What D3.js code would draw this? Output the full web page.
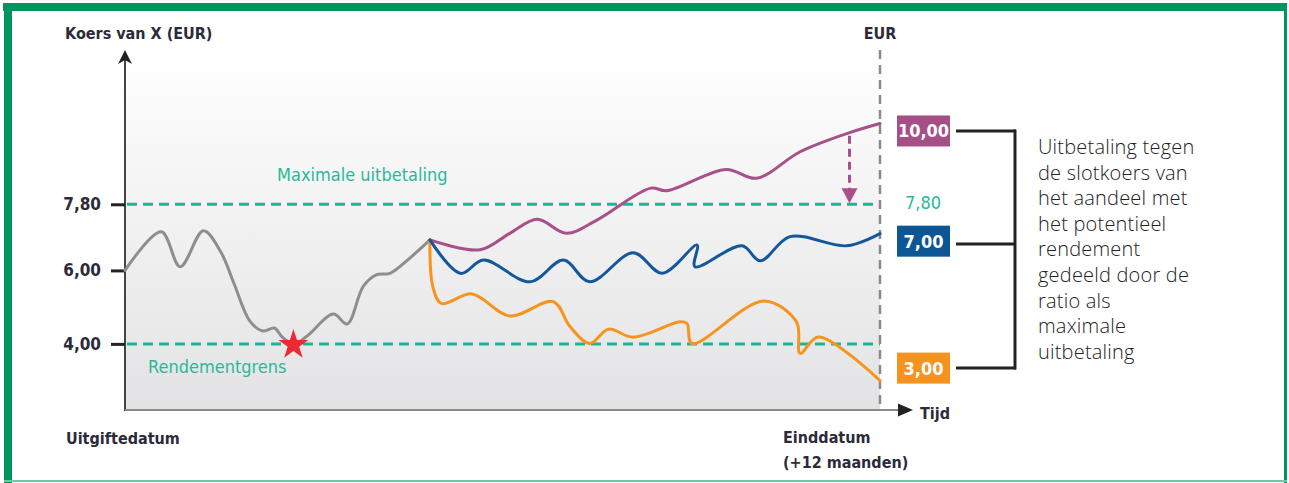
<!DOCTYPE html>
<html>
<head>
<meta charset="utf-8">
<script src="https://cdn.jsdelivr.net/npm/d3@7"></script>
<style>
body { margin: 0; background: #fff; }
svg { display: block; }
</style>
</head>
<body>
<script>
// waarden (x in weken, y in EUR)
var grayWeeks = [0, 2.5, 3.8, 5.4, 6.6, 7.5, 8.6, 9.5, 10.3, 10.8, 11.6, 12.5, 14.35, 15.3, 16.4, 17.3, 18.25, 19.6, 21];
var grayValues = [6.0, 7.05, 6.1, 7.08, 6.5, 5.65, 4.62, 4.35, 4.43, 4.2, 4.0, 4.2, 4.81, 4.54, 5.56, 5.88, 5.92, 6.33, 6.83];

var purpleWeeks = [21, 24.45, 26.5, 28.4, 30.4, 32.5, 36.2, 37.3, 41.4, 43.5, 46.5, 49.9, 52];
var purpleValues = [6.83, 6.56, 7.01, 7.39, 7.01, 7.37, 8.24, 8.17, 8.75, 8.51, 9.23, 9.75, 10.0];

var blueWeeks = [21, 23.1, 24.7, 27.9, 30.2, 32.0, 35.0, 37.0, 39.4, 39.25, 42.5, 43.75, 45.8, 49.7, 52];
var blueValues = [6.83, 5.92, 6.28, 5.69, 6.28, 5.69, 6.48, 5.92, 6.69, 6.10, 6.67, 6.26, 6.92, 6.67, 7.0];

var orangeWeeks = [21, 21.2, 21.8, 23.9, 26.5, 29.5, 30.65, 32.0, 33.3, 35.0, 38.2, 38.7, 39.05, 44.0, 46.25, 46.5, 47.75, 52];
var orangeValues = [6.83, 5.56, 5.1, 5.36, 4.76, 5.15, 4.47, 4.01, 4.40, 4.18, 4.60, 4.56, 4.01, 5.17, 4.60, 3.74, 4.19, 3.0];

var tickValues = [4.0, 6.0, 7.8];
var maxPayout = 7.8;
var yieldLimit = 4.0;
var touchWeek = 11.6;

var endLabels = ["10,00", "7,00", "3,00"];
var endValues = [10.0, 7.0, 3.0];
var endColors = ["#a64f87", "#0c5696", "#f6931e"];

var noteLines = ["Uitbetaling tegen", "de slotkoers van", "het aandeel met", "het potentieel",
    "rendement", "gedeeld door de", "ratio als", "maximale", "uitbetaling"];

var W = 1289, H = 483;
var condensed = "'Liberation Sans Narrow', 'DejaVu Sans Condensed', sans-serif";
var teal = "#1cb595";

var canvas = d3.select("body").append("svg")
    .attr("width", W)
    .attr("height", H);

var x = d3.scaleLinear().domain([0, 52]).range([125, 880]);
var y = d3.scaleLinear().domain([2.2, 12]).range([410, 50]);

window.onload = function(){
    drawFrame();
    drawBackground();
    drawAxes();
    drawLines();
    drawLabels();
    drawNote();
};

function drawFrame(){
    var green = "#00955f";
    canvas.append("rect").attr("x", 3).attr("y", 3).attr("width", 1284).attr("height", 8).attr("fill", green);
    canvas.append("rect").attr("x", 4).attr("y", 3).attr("width", 8).attr("height", 480).attr("fill", green);
    canvas.append("rect").attr("x", 1284).attr("y", 3).attr("width", 3).attr("height", 480).attr("fill", green);
    canvas.append("rect").attr("x", 4).attr("y", 480).attr("width", 1283).attr("height", 2).attr("fill", "#6cc9a0");
}

function drawBackground(){
    var grad = canvas.append("defs").append("linearGradient")
        .attr("id", "bg")
        .attr("x1", 0).attr("y1", 0).attr("x2", 0).attr("y2", 1);
    grad.append("stop").attr("offset", "0%").attr("stop-color", "#ffffff");
    grad.append("stop").attr("offset", "100%").attr("stop-color", "#e3e3e5");

    canvas.append("rect")
        .attr("x", x(0))
        .attr("y", y(12))
        .attr("width", x(52) - x(0))
        .attr("height", y(2.2) - y(12))
        .attr("fill", "url(#bg)");
}

function drawAxes(){
    // y-as
    canvas.append("line")
        .attr("x1", x(0)).attr("x2", x(0))
        .attr("y1", y(12) + 8).attr("y2", y(2.2) + 1)
        .attr("stroke", "#444").attr("stroke-width", 2);
    canvas.append("path")
        .attr("d", "M" + x(0) + "," + y(12) + " l7,14 l-7,-4 l-7,4 z")
        .attr("fill", "#222");

    // x-as
    canvas.append("line")
        .attr("x1", x(0)).attr("x2", 900)
        .attr("y1", y(2.2)).attr("y2", y(2.2))
        .attr("stroke", "#8a8a8a").attr("stroke-width", 2);
    canvas.append("path")
        .attr("d", "M898," + (y(2.2) - 6.5) + " L913," + y(2.2) + " L898," + (y(2.2) + 6.5) + " z")
        .attr("fill", "#222");

    var axis = canvas.append("g")
        .attr("transform", "translate(" + x(0) + ",0)")
        .call(d3.axisLeft(y)
            .tickValues(tickValues)
            .tickSize(14)
            .tickPadding(10)
            .tickFormat(function(d){ return d.toFixed(2).replace(".", ","); }));
    axis.select(".domain").remove();
    axis.selectAll(".tick line").attr("stroke", "#222").attr("stroke-width", 3);
    axis.selectAll(".tick text")
        .attr("font-family", condensed)
        .attr("font-weight", "bold")
        .attr("font-size", 17)
        .attr("fill", "#2b2b3a");

    // horizontale grenzen
    [maxPayout, yieldLimit].forEach(function(v){
        canvas.append("line")
            .attr("x1", x(0) + 2).attr("x2", x(52))
            .attr("y1", y(v)).attr("y2", y(v))
            .attr("stroke", teal)
            .attr("stroke-width", 3)
            .attr("stroke-dasharray", "10,6");
    });

    // einddatum
    canvas.append("line")
        .attr("x1", x(52)).attr("x2", x(52))
        .attr("y1", y(12)).attr("y2", y(2.2))
        .attr("stroke", "#8a8a8a")
        .attr("stroke-width", 2.5)
        .attr("stroke-dasharray", "9,6");
}

function drawLines(){
    var line = d3.line()
        .x(function(d){ return x(d[0]); })
        .y(function(d){ return y(d[1]); })
        .curve(d3.curveCatmullRom.alpha(0.5));

    var series = [
        [grayWeeks, grayValues, "#8e8e8e"],
        [purpleWeeks, purpleValues, "#a8508a"],
        [orangeWeeks, orangeValues, "#f7941d"],
        [blueWeeks, blueValues, "#12589a"]
    ];
    series.forEach(function(s){
        var pts = d3.zip(s[0], s[1]);
        canvas.append("path")
            .datum(pts)
            .attr("d", line)
            .attr("fill", "none")
            .attr("stroke", s[2])
            .attr("stroke-width", 3)
            .attr("stroke-linejoin", "round")
            .attr("stroke-linecap", "round");
    });

    // ster waar de koers de rendementsgrens raakt
    var star = d3.symbol().type(d3.symbolStar).size(280);
    canvas.append("path")
        .attr("d", star)
        .attr("transform", "translate(" + x(touchWeek) + "," + (y(yieldLimit) + 1) + ")")
        .attr("fill", "#ec2a32");

    // pijl van 10,00 naar 7,80
    var ax = x(49.9);
    canvas.append("line")
        .attr("x1", ax).attr("x2", ax)
        .attr("y1", y(9.75) + 3).attr("y2", y(maxPayout) - 14)
        .attr("stroke", "#a8508a")
        .attr("stroke-width", 3)
        .attr("stroke-dasharray", "8,5");
    canvas.append("path")
        .attr("d", "M" + (ax - 8) + "," + (y(maxPayout) - 16) + " L" + (ax + 8) + "," + (y(maxPayout) - 16) + " L" + ax + "," + (y(maxPayout) - 1) + " z")
        .attr("fill", "#a8508a");
}

function drawLabels(){
    function txt(t, px, py, opts){
        opts = opts || {};
        return canvas.append("text")
            .attr("x", px).attr("y", py)
            .attr("font-family", opts.family || condensed)
            .attr("font-weight", opts.weight || "bold")
            .attr("font-size", opts.size || 16)
            .attr("fill", opts.fill || "#2b2b3a")
            .attr("text-anchor", opts.anchor || "start")
            .text(t);
    }

    txt("Koers van X (EUR)", 65, 39);
    txt("EUR", x(52), 39, {anchor: "middle"});
    txt("Maximale uitbetaling", 277, 181, {fill: "#2ab89b", weight: "normal", size: 18});
    txt("Rendementgrens", 148, 373, {fill: "#2ab89b", weight: "normal", size: 18});
    txt("Uitgiftedatum", 66, 444);
    txt("Einddatum", 783, 443);
    txt("(+12 maanden)", 783, 468);
    txt("Tijd", 920, 419);
    txt("7,80", 905, 209, {fill: "#2ab89b", weight: "normal", size: 18});

    endValues.forEach(function(v, i){
        var cy = y(v) + (i === 0 ? 8 : (i === 1 ? 8 : -12));
        canvas.append("rect")
            .attr("x", 897).attr("y", cy - 16)
            .attr("width", 53).attr("height", 31)
            .attr("fill", endColors[i]);
        txt(endLabels[i], 923.5, cy + 6, {fill: "#fff", anchor: "middle", size: 18});
    });
}

function drawNote(){
    var ys = [131, 244, 368];
    ys.forEach(function(v){
        canvas.append("line")
            .attr("x1", 956).attr("x2", 1016)
            .attr("y1", v).attr("y2", v)
            .attr("stroke", "#222").attr("stroke-width", 3);
    });
    canvas.append("line")
        .attr("x1", 1015).attr("x2", 1015)
        .attr("y1", ys[0] - 1.5).attr("y2", ys[2] + 1.5)
        .attr("stroke", "#222").attr("stroke-width", 3);

    noteLines.forEach(function(l, i){
        canvas.append("text")
            .attr("x", 1038)
            .attr("y", 154 + i * 25.6)
            .attr("font-family", "'Open Sans', sans-serif")
            .attr("font-weight", 300)
            .attr("font-size", 20)
            .attr("letter-spacing", 0.2)
            .attr("fill", "#222")
            .text(l);
    });
}
</script>
</body>
</html>
